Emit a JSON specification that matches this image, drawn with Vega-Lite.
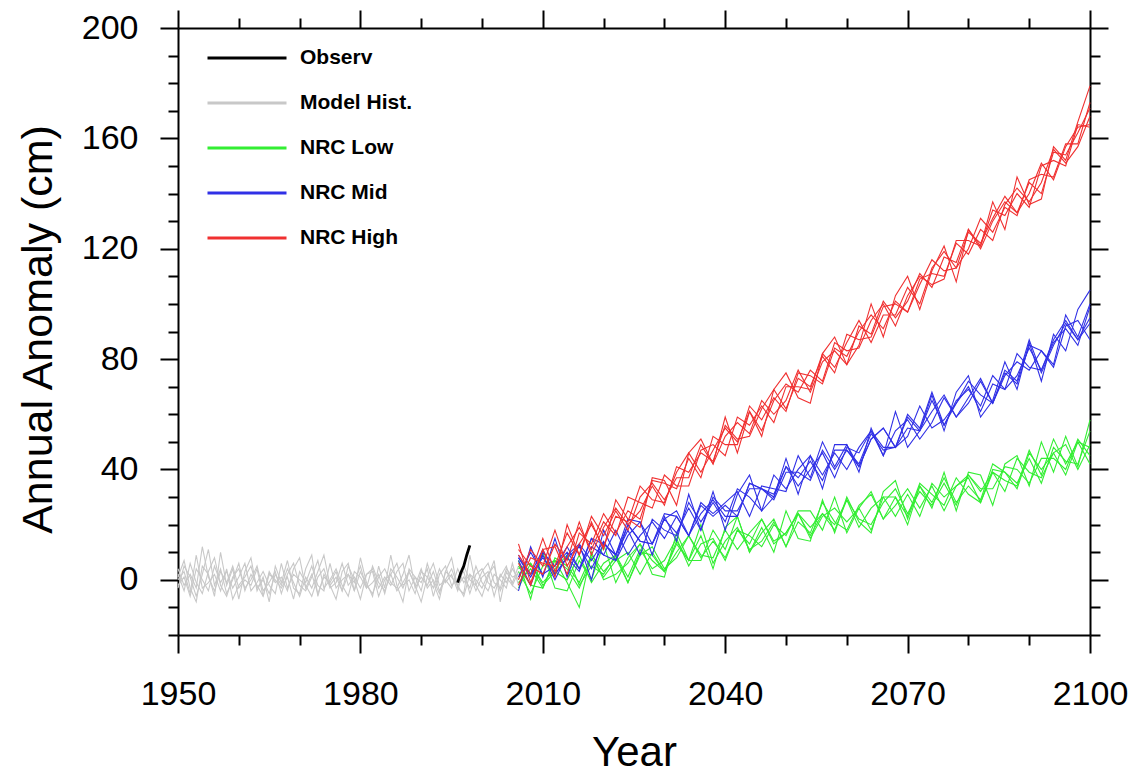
{
"$schema": "https://vega.github.io/schema/vega-lite/v6.json",
"width": 912, "height": 607,
"autosize": {"type": "none"},
"padding": {"left": 178, "top": 28, "right": 44, "bottom": 140},
"background": "white",
"config": {"font": "Liberation Sans", "view": {"stroke": null}},
"datasets": {
"obs": [
{"s":"Observ","t":1996,"v":-1},{"s":"Observ","t":1996.5,"v":2.5},{"s":"Observ","t":1997,"v":5},{"s":"Observ","t":1997.5,"v":9},{"s":"Observ","t":1998,"v":12.5}
],
"runs": [
{"s":"Model Hist.","t":1950,"a":2,"b":-3,"c":0,"d":4,"e":-2,"f":1},
{"s":"Model Hist.","t":1951,"a":-4,"b":5,"c":3,"d":-2,"e":1,"f":7},
{"s":"Model Hist.","t":1952,"a":6,"b":1,"c":-5,"d":2,"e":-6,"f":-3},
{"s":"Model Hist.","t":1953,"a":-1,"b":-6,"c":9,"d":-3,"e":4,"f":-8},
{"s":"Model Hist.","t":1954,"a":-5,"b":2,"c":-3,"d":12,"e":0,"f":5},
{"s":"Model Hist.","t":1955,"a":3,"b":11,"c":-1,"d":1,"e":-4,"f":2},
{"s":"Model Hist.","t":1956,"a":8,"b":-2,"c":2,"d":-4,"e":5,"f":-6},
{"s":"Model Hist.","t":1957,"a":-2,"b":4,"c":-4,"d":3,"e":-1,"f":10},
{"s":"Model Hist.","t":1958,"a":-6,"b":-5,"c":4,"d":-1,"e":3,"f":-2},
{"s":"Model Hist.","t":1959,"a":1,"b":0,"c":-7,"d":5,"e":-3,"f":4},
{"s":"Model Hist.","t":1960,"a":4,"b":6,"c":-2,"d":-3,"e":1,"f":-7},
{"s":"Model Hist.","t":1961,"a":-3,"b":-4,"c":1,"d":0,"e":6,"f":3},
{"s":"Model Hist.","t":1962,"a":0,"b":2,"c":5,"d":-2,"e":-4,"f":8},
{"s":"Model Hist.","t":1963,"a":5,"b":-2,"c":-3,"d":4,"e":-1,"f":-4},
{"s":"Model Hist.","t":1964,"a":-4,"b":-6,"c":0,"d":-6,"e":3,"f":1},
{"s":"Model Hist.","t":1965,"a":-1,"b":3,"c":-5,"d":2,"e":-2,"f":-8},
{"s":"Model Hist.","t":1966,"a":3,"b":-1,"c":2,"d":0,"e":-5,"f":5},
{"s":"Model Hist.","t":1967,"a":-5,"b":1,"c":-2,"d":-3,"e":6,"f":-1},
{"s":"Model Hist.","t":1968,"a":2,"b":-4,"c":4,"d":1,"e":-3,"f":7},
{"s":"Model Hist.","t":1969,"a":6,"b":4,"c":-1,"d":-7,"e":2,"f":-3},
{"s":"Model Hist.","t":1970,"a":-2,"b":8,"c":-6,"d":3,"e":0,"f":-5},
{"s":"Model Hist.","t":1971,"a":-4,"b":-3,"c":1,"d":-1,"e":-2,"f":4},
{"s":"Model Hist.","t":1972,"a":1,"b":2,"c":-3,"d":5,"e":-6,"f":9},
{"s":"Model Hist.","t":1973,"a":7,"b":-5,"c":3,"d":-2,"e":1,"f":-6},
{"s":"Model Hist.","t":1974,"a":-3,"b":1,"c":9,"d":-4,"e":4,"f":2},
{"s":"Model Hist.","t":1975,"a":0,"b":-1,"c":-2,"d":6,"e":-3,"f":-2},
{"s":"Model Hist.","t":1976,"a":4,"b":3,"c":1,"d":-3,"e":-1,"f":-7},
{"s":"Model Hist.","t":1977,"a":-2,"b":-4,"c":-4,"d":0,"e":6,"f":3},
{"s":"Model Hist.","t":1978,"a":-6,"b":5,"c":2,"d":2,"e":-2,"f":6},
{"s":"Model Hist.","t":1979,"a":3,"b":0,"c":-1,"d":-4,"e":1,"f":-4},
{"s":"Model Hist.","t":1980,"a":1,"b":-7,"c":5,"d":3,"e":-3,"f":8},
{"s":"Model Hist.","t":1981,"a":-3,"b":2,"c":-3,"d":-2,"e":2,"f":-1},
{"s":"Model Hist.","t":1982,"a":5,"b":4,"c":-1,"d":-5,"e":3,"f":-6},
{"s":"Model Hist.","t":1983,"a":-1,"b":-3,"c":2,"d":1,"e":-6,"f":5},
{"s":"Model Hist.","t":1984,"a":-4,"b":1,"c":-5,"d":4,"e":0,"f":-3},
{"s":"Model Hist.","t":1985,"a":2,"b":-2,"c":4,"d":-1,"e":2,"f":9},
{"s":"Model Hist.","t":1986,"a":6,"b":3,"c":1,"d":-3,"e":-4,"f":-2},
{"s":"Model Hist.","t":1987,"a":-2,"b":6,"c":-3,"d":2,"e":-1,"f":-8},
{"s":"Model Hist.","t":1988,"a":0,"b":-4,"c":3,"d":9,"e":3,"f":4},
{"s":"Model Hist.","t":1989,"a":-5,"b":1,"c":-2,"d":-3,"e":-2,"f":1},
{"s":"Model Hist.","t":1990,"a":3,"b":-1,"c":-8,"d":1,"e":4,"f":-4},
{"s":"Model Hist.","t":1991,"a":1,"b":4,"c":1,"d":-2,"e":-3,"f":6},
{"s":"Model Hist.","t":1992,"a":-3,"b":-6,"c":6,"d":3,"e":0,"f":-1},
{"s":"Model Hist.","t":1993,"a":4,"b":2,"c":-2,"d":-4,"e":-5,"f":-7},
{"s":"Model Hist.","t":1994,"a":-1,"b":5,"c":0,"d":0,"e":3,"f":3},
{"s":"Model Hist.","t":1995,"a":2,"b":-2,"c":-3,"d":4,"e":1,"f":8},
{"s":"Model Hist.","t":1996,"a":-4,"b":0,"c":4,"d":-2,"e":-2,"f":-3},
{"s":"Model Hist.","t":1997,"a":5,"b":3,"c":-1,"d":1,"e":-6,"f":-5},
{"s":"Model Hist.","t":1998,"a":0,"b":-5,"c":2,"d":-3,"e":2,"f":9},
{"s":"Model Hist.","t":1999,"a":-2,"b":2,"c":-4,"d":5,"e":0,"f":-2},
{"s":"Model Hist.","t":2000,"a":3,"b":4,"c":1,"d":-1,"e":-3,"f":-6},
{"s":"Model Hist.","t":2001,"a":6,"b":-1,"c":3,"d":-4,"e":2,"f":1},
{"s":"Model Hist.","t":2002,"a":-1,"b":-3,"c":-6,"d":2,"e":5,"f":7},
{"s":"Model Hist.","t":2003,"a":-3,"b":1,"c":2,"d":0,"e":-4,"f":-8},
{"s":"Model Hist.","t":2004,"a":4,"b":5,"c":-1,"d":-3,"e":1,"f":3},
{"s":"Model Hist.","t":2005,"a":1,"b":-2,"c":4,"d":6,"e":-2,"f":-1},
{"s":"Model Hist.","t":2006,"a":2,"b":3,"c":0,"d":-2,"e":-4,"f":5},
{"s":"NRC Low","t":2006,"a":-3,"b":4,"c":5,"d":-1,"e":3,"f":7},
{"s":"NRC Low","t":2008,"a":6,"b":6,"c":-2,"d":4,"e":-5,"f":-7},
{"s":"NRC Low","t":2010,"a":-1,"b":-2,"c":-3,"d":-3,"e":5,"f":10},
{"s":"NRC Low","t":2012,"a":4,"b":3,"c":8,"d":7,"e":7,"f":-3},
{"s":"NRC Low","t":2014,"a":9,"b":0,"c":5,"d":4,"e":-1,"f":-4},
{"s":"NRC Low","t":2016,"a":-2,"b":9,"c":-1,"d":-3,"e":-10,"f":7},
{"s":"NRC Low","t":2018,"a":5,"b":-1,"c":9,"d":8,"e":10,"f":0},
{"s":"NRC Low","t":2020,"a":2,"b":6,"c":3,"d":1,"e":0,"f":13},
{"s":"NRC Low","t":2022,"a":9,"b":9,"c":8,"d":7,"e":2,"f":-1},
{"s":"NRC Low","t":2024,"a":-1,"b":1,"c":-1,"d":10,"e":6,"f":8},
{"s":"NRC Low","t":2026,"a":9,"b":11,"c":10,"d":2,"e":13,"f":13},
{"s":"NRC Low","t":2028,"a":12,"b":4,"c":9,"d":10,"e":7,"f":2},
{"s":"NRC Low","t":2030,"a":4,"b":7,"c":3,"d":3,"e":3,"f":1},
{"s":"NRC Low","t":2032,"a":8,"b":15,"c":14,"d":10,"e":13,"f":17},
{"s":"NRC Low","t":2034,"a":16,"b":5,"c":7,"d":16,"e":7,"f":7},
{"s":"NRC Low","t":2036,"a":8,"b":13,"c":7,"d":9,"e":20,"f":16},
{"s":"NRC Low","t":2038,"a":14,"b":15,"c":18,"d":8,"e":6,"f":4},
{"s":"NRC Low","t":2040,"a":8,"b":7,"c":11,"d":18,"e":14,"f":19},
{"s":"NRC Low","t":2042,"a":18,"b":18,"c":23,"d":11,"e":19,"f":23},
{"s":"NRC Low","t":2044,"a":16,"b":13,"c":10,"d":17,"e":11,"f":10},
{"s":"NRC Low","t":2046,"a":12,"b":22,"c":17,"d":22,"e":14,"f":19},
{"s":"NRC Low","t":2048,"a":20,"b":14,"c":22,"d":13,"e":21,"f":10},
{"s":"NRC Low","t":2050,"a":16,"b":17,"c":12,"d":17,"e":12,"f":25},
{"s":"NRC Low","t":2052,"a":25,"b":24,"c":21,"d":24,"e":24,"f":15},
{"s":"NRC Low","t":2054,"a":25,"b":16,"c":17,"d":15,"e":19,"f":14},
{"s":"NRC Low","t":2056,"a":18,"b":24,"c":28,"d":23,"e":24,"f":29},
{"s":"NRC Low","t":2058,"a":30,"b":20,"c":21,"d":26,"e":18,"f":17},
{"s":"NRC Low","t":2060,"a":17,"b":29,"c":18,"d":21,"e":29,"f":30},
{"s":"NRC Low","t":2062,"a":26,"b":19,"c":27,"d":26,"e":22,"f":21},
{"s":"NRC Low","t":2064,"a":32,"b":26,"c":31,"d":18,"e":20,"f":17},
{"s":"NRC Low","t":2066,"a":22,"b":30,"c":22,"d":30,"e":28,"f":32},
{"s":"NRC Low","t":2068,"a":30,"b":23,"c":27,"d":30,"e":33,"f":36},
{"s":"NRC Low","t":2070,"a":23,"b":31,"c":33,"d":20,"e":24,"f":22},
{"s":"NRC Low","t":2072,"a":35,"b":23,"c":26,"d":34,"e":32,"f":34},
{"s":"NRC Low","t":2074,"a":31,"b":35,"c":34,"d":28,"e":27,"f":26},
{"s":"NRC Low","t":2076,"a":27,"b":30,"c":25,"d":37,"e":35,"f":39},
{"s":"NRC Low","t":2078,"a":37,"b":34,"c":34,"d":28,"e":27,"f":25},
{"s":"NRC Low","t":2080,"a":31,"b":37,"c":38,"d":34,"e":38,"f":39},
{"s":"NRC Low","t":2082,"a":28,"b":28,"c":32,"d":29,"e":33,"f":38},
{"s":"NRC Low","t":2084,"a":40,"b":39,"c":39,"d":42,"e":33,"f":27},
{"s":"NRC Low","t":2086,"a":39,"b":36,"c":32,"d":39,"e":41,"f":42},
{"s":"NRC Low","t":2088,"a":33,"b":34,"c":44,"d":35,"e":40,"f":45},
{"s":"NRC Low","t":2090,"a":46,"b":47,"c":39,"d":44,"e":35,"f":34},
{"s":"NRC Low","t":2092,"a":40,"b":38,"c":37,"d":35,"e":44,"f":50},
{"s":"NRC Low","t":2094,"a":46,"b":51,"c":46,"d":48,"e":44,"f":39},
{"s":"NRC Low","t":2096,"a":38,"b":42,"c":49,"d":43,"e":40,"f":52},
{"s":"NRC Low","t":2098,"a":50,"b":50,"c":40,"d":42,"e":51,"f":41},
{"s":"NRC Low","t":2100,"a":48,"b":42,"c":49,"d":54,"e":45,"f":58},
{"s":"NRC Mid","t":2006,"a":9,"b":8,"c":7,"d":8,"e":1,"f":-4},
{"s":"NRC Mid","t":2008,"a":2,"b":2,"c":-2,"d":1,"e":10,"f":12},
{"s":"NRC Mid","t":2010,"a":8,"b":11,"c":10,"d":9,"e":2,"f":1},
{"s":"NRC Mid","t":2012,"a":2,"b":2,"c":5,"d":0,"e":5,"f":15},
{"s":"NRC Mid","t":2014,"a":8,"b":8,"c":10,"d":9,"e":12,"f":1},
{"s":"NRC Mid","t":2016,"a":12,"b":3,"c":4,"d":13,"e":4,"f":13},
{"s":"NRC Mid","t":2018,"a":4,"b":15,"c":15,"d":7,"e":12,"f":0},
{"s":"NRC Mid","t":2020,"a":13,"b":13,"c":9,"d":14,"e":9,"f":18},
{"s":"NRC Mid","t":2022,"a":9,"b":9,"c":7,"d":7,"e":18,"f":9},
{"s":"NRC Mid","t":2024,"a":20,"b":18,"c":16,"d":20,"e":9,"f":22},
{"s":"NRC Mid","t":2026,"a":14,"b":9,"c":21,"d":14,"e":16,"f":21},
{"s":"NRC Mid","t":2028,"a":13,"b":22,"c":13,"d":13,"e":21,"f":9},
{"s":"NRC Mid","t":2030,"a":24,"b":18,"c":22,"d":22,"e":15,"f":23},
{"s":"NRC Mid","t":2032,"a":23,"b":16,"c":17,"d":25,"e":23,"f":14},
{"s":"NRC Mid","t":2034,"a":16,"b":28,"c":26,"d":16,"e":16,"f":31},
{"s":"NRC Mid","t":2036,"a":27,"b":21,"c":18,"d":24,"e":28,"f":18},
{"s":"NRC Mid","t":2038,"a":23,"b":28,"c":30,"d":29,"e":24,"f":32},
{"s":"NRC Mid","t":2040,"a":27,"b":21,"c":25,"d":23,"e":28,"f":18},
{"s":"NRC Mid","t":2042,"a":23,"b":33,"c":25,"d":23,"e":32,"f":31},
{"s":"NRC Mid","t":2044,"a":35,"b":30,"c":33,"d":35,"e":23,"f":38},
{"s":"NRC Mid","t":2046,"a":33,"b":25,"c":33,"d":33,"e":34,"f":25},
{"s":"NRC Mid","t":2048,"a":31,"b":38,"c":29,"d":30,"e":33,"f":30},
{"s":"NRC Mid","t":2050,"a":41,"b":33,"c":39,"d":41,"e":32,"f":44},
{"s":"NRC Mid","t":2052,"a":34,"b":40,"c":39,"d":37,"e":45,"f":31},
{"s":"NRC Mid","t":2054,"a":40,"b":45,"c":36,"d":43,"e":37,"f":45},
{"s":"NRC Mid","t":2056,"a":46,"b":38,"c":47,"d":36,"e":50,"f":33},
{"s":"NRC Mid","t":2058,"a":37,"b":46,"c":40,"d":47,"e":41,"f":49},
{"s":"NRC Mid","t":2060,"a":48,"b":40,"c":47,"d":47,"e":49,"f":49},
{"s":"NRC Mid","t":2062,"a":46,"b":48,"c":41,"d":42,"e":41,"f":39},
{"s":"NRC Mid","t":2064,"a":54,"b":54,"c":51,"d":53,"e":51,"f":55},
{"s":"NRC Mid","t":2066,"a":45,"b":48,"c":55,"d":47,"e":55,"f":45},
{"s":"NRC Mid","t":2068,"a":54,"b":48,"c":48,"d":48,"e":48,"f":61},
{"s":"NRC Mid","t":2070,"a":58,"b":59,"c":52,"d":60,"e":55,"f":48},
{"s":"NRC Mid","t":2072,"a":51,"b":54,"c":63,"d":55,"e":54,"f":54},
{"s":"NRC Mid","t":2074,"a":57,"b":61,"c":55,"d":68,"e":65,"f":67},
{"s":"NRC Mid","t":2076,"a":66,"b":67,"c":58,"d":56,"e":56,"f":54},
{"s":"NRC Mid","t":2078,"a":59,"b":59,"c":64,"d":64,"e":65,"f":68},
{"s":"NRC Mid","t":2080,"a":66,"b":64,"c":72,"d":70,"e":69,"f":74},
{"s":"NRC Mid","t":2082,"a":73,"b":72,"c":67,"d":61,"e":63,"f":59},
{"s":"NRC Mid","t":2084,"a":64,"b":64,"c":64,"d":71,"e":74,"f":65},
{"s":"NRC Mid","t":2086,"a":75,"b":74,"c":76,"d":69,"e":69,"f":79},
{"s":"NRC Mid","t":2088,"a":71,"b":79,"c":72,"d":82,"e":74,"f":69},
{"s":"NRC Mid","t":2090,"a":85,"b":76,"c":87,"d":77,"e":84,"f":86},
{"s":"NRC Mid","t":2092,"a":83,"b":83,"c":75,"d":76,"e":76,"f":72},
{"s":"NRC Mid","t":2094,"a":78,"b":77,"c":85,"d":87,"e":86,"f":89},
{"s":"NRC Mid","t":2096,"a":96,"b":92,"c":93,"d":94,"e":91,"f":83},
{"s":"NRC Mid","t":2098,"a":88,"b":94,"c":87,"d":87,"e":85,"f":98},
{"s":"NRC Mid","t":2100,"a":100,"b":87,"c":93,"d":95,"e":99,"f":105},
{"s":"NRC High","t":2006,"a":9,"b":0,"c":6,"d":-2,"e":11,"f":13},
{"s":"NRC High","t":2008,"a":2,"b":11,"c":-2,"d":8,"e":5,"f":-1},
{"s":"NRC High","t":2010,"a":15,"b":5,"c":11,"d":6,"e":2,"f":11},
{"s":"NRC High","t":2012,"a":3,"b":18,"c":12,"d":5,"e":13,"f":1},
{"s":"NRC High","t":2014,"a":12,"b":5,"c":2,"d":17,"e":7,"f":20},
{"s":"NRC High","t":2016,"a":19,"b":13,"c":17,"d":9,"e":21,"f":9},
{"s":"NRC High","t":2018,"a":11,"b":20,"c":13,"d":23,"e":9,"f":21},
{"s":"NRC High","t":2020,"a":21,"b":12,"c":24,"d":16,"e":19,"f":11},
{"s":"NRC High","t":2022,"a":16,"b":23,"c":17,"d":25,"e":26,"f":29},
{"s":"NRC High","t":2024,"a":30,"b":21,"c":25,"d":18,"e":20,"f":22},
{"s":"NRC High","t":2026,"a":28,"b":34,"c":22,"d":30,"e":25,"f":19},
{"s":"NRC High","t":2028,"a":26,"b":29,"c":36,"d":35,"e":34,"f":37},
{"s":"NRC High","t":2030,"a":38,"b":28,"c":35,"d":29,"e":27,"f":36},
{"s":"NRC High","t":2032,"a":34,"b":39,"c":33,"d":37,"e":41,"f":27},
{"s":"NRC High","t":2034,"a":34,"b":46,"c":44,"d":37,"e":39,"f":46},
{"s":"NRC High","t":2036,"a":47,"b":39,"c":37,"d":49,"e":46,"f":51},
{"s":"NRC High","t":2038,"a":49,"b":47,"c":52,"d":42,"e":43,"f":42},
{"s":"NRC High","t":2040,"a":45,"b":55,"c":49,"d":52,"e":56,"f":59},
{"s":"NRC High","t":2042,"a":59,"b":50,"c":49,"d":57,"e":51,"f":46},
{"s":"NRC High","t":2044,"a":56,"b":61,"c":63,"d":53,"e":52,"f":61},
{"s":"NRC High","t":2046,"a":63,"b":54,"c":58,"d":65,"e":62,"f":52},
{"s":"NRC High","t":2048,"a":57,"b":65,"c":66,"d":60,"e":69,"f":69},
{"s":"NRC High","t":2050,"a":70,"b":71,"c":61,"d":65,"e":62,"f":75},
{"s":"NRC High","t":2052,"a":70,"b":68,"c":75,"d":76,"e":73,"f":66},
{"s":"NRC High","t":2054,"a":69,"b":76,"c":74,"d":68,"e":70,"f":64},
{"s":"NRC High","t":2056,"a":82,"b":72,"c":71,"d":79,"e":81,"f":82},
{"s":"NRC High","t":2058,"a":77,"b":86,"c":84,"d":83,"e":75,"f":88},
{"s":"NRC High","t":2060,"a":86,"b":83,"c":81,"d":78,"e":89,"f":78},
{"s":"NRC High","t":2062,"a":94,"b":84,"c":90,"d":92,"e":87,"f":85},
{"s":"NRC High","t":2064,"a":86,"b":94,"c":96,"d":89,"e":88,"f":100},
{"s":"NRC High","t":2066,"a":96,"b":100,"c":91,"d":101,"e":99,"f":88},
{"s":"NRC High","t":2068,"a":96,"b":92,"c":101,"d":95,"e":100,"f":103},
{"s":"NRC High","t":2070,"a":106,"b":103,"c":97,"d":101,"e":97,"f":110},
{"s":"NRC High","t":2072,"a":100,"b":110,"c":107,"d":111,"e":109,"f":98},
{"s":"NRC High","t":2074,"a":113,"b":107,"c":116,"d":106,"e":111,"f":112},
{"s":"NRC High","t":2076,"a":119,"b":109,"c":112,"d":117,"e":110,"f":121},
{"s":"NRC High","t":2078,"a":113,"b":123,"c":113,"d":115,"e":122,"f":108},
{"s":"NRC High","t":2080,"a":120,"b":123,"c":126,"d":127,"e":118,"f":127},
{"s":"NRC High","t":2082,"a":131,"b":121,"c":122,"d":120,"e":127,"f":121},
{"s":"NRC High","t":2084,"a":126,"b":134,"c":131,"d":130,"e":123,"f":137},
{"s":"NRC High","t":2086,"a":135,"b":132,"c":139,"d":137,"e":136,"f":127},
{"s":"NRC High","t":2088,"a":132,"b":140,"c":133,"d":133,"e":142,"f":146},
{"s":"NRC High","t":2090,"a":145,"b":135,"c":140,"d":144,"e":137,"f":136},
{"s":"NRC High","t":2092,"a":147,"b":150,"c":151,"d":140,"e":144,"f":138},
{"s":"NRC High","t":2094,"a":146,"b":152,"c":145,"d":155,"e":156,"f":157},
{"s":"NRC High","t":2096,"a":158,"b":150,"c":157,"d":154,"e":151,"f":152},
{"s":"NRC High","t":2098,"a":158,"b":165,"c":164,"d":162,"e":157,"f":166},
{"s":"NRC High","t":2100,"a":173,"b":164,"c":165,"d":171,"e":168,"f":179}
]
},
"layer": [
{
"data": {"name": "runs"},
"transform": [{"fold": ["a","b","c","d","e","f"], "as": ["m","v"]}],
"mark": {"type": "line", "strokeWidth": 1.1},
"encoding": {
"x": {"field": "t", "type": "quantitative",
 "scale": {"domain": [1950, 2100], "nice": false, "zero": false},
 "axis": {"orient": "bottom", "values": [1950,1960,1970,1980,1990,2000,2010,2020,2030,2040,2050,2060,2070,2080,2090,2100],
  "format": "d", "labelExpr": "datum.value % 30 === 0 ? datum.label : ''",
  "tickSize": {"condition": {"test": "datum.value % 30 === 0", "value": 18}, "value": 10},
  "tickWidth": 2, "tickColor": "black", "domainColor": "black", "domainWidth": 2,
  "labelFontSize": 34, "labelColor": "black", "labelPadding": 24, "labelOverlap": false, "labelFlush": false, "labelBound": false,
  "grid": false, "title": "Year", "titleFontSize": 42, "titleFontWeight": "normal", "titleColor": "black",
  "titleX": 456, "titleY": 130, "titleBaseline": "alphabetic", "titleAlign": "center"}},
"y": {"field": "v", "type": "quantitative",
 "scale": {"domain": [-20, 200], "nice": false, "zero": false},
 "axis": {"orient": "left", "values": [-20,-10,0,10,20,30,40,50,60,70,80,90,100,110,120,130,140,150,160,170,180,190,200],
  "format": "d", "labelExpr": "datum.value % 40 === 0 ? datum.label : ''",
  "tickSize": {"condition": {"test": "datum.value % 40 === 0", "value": 18}, "value": 10},
  "tickWidth": 2, "tickColor": "black", "domainColor": "black", "domainWidth": 2,
  "labelFontSize": 34, "labelColor": "black", "labelPadding": 22, "labelOverlap": false, "labelFlush": false, "labelBound": false,
  "grid": false, "title": "Annual Anomaly (cm)", "titleFontSize": 43, "titleFontWeight": "normal", "titleColor": "black",
  "titleAngle": 270, "titleX": -127, "titleY": 301, "titleBaseline": "alphabetic", "titleAlign": "center"}},
"color": {"field": "s", "type": "nominal",
 "scale": {"domain": ["Observ","Model Hist.","NRC Low","NRC Mid","NRC High"], "range": ["#000000","#c8c8c8","#33ee33","#3030e6","#f03030"]},
 "legend": {"title": null, "orient": "none", "legendX": 28, "legendY": 17, "symbolType": "stroke", "symbolSize": 6241, "symbolStrokeWidth": 3,
  "clipHeight": 26,
  "labelFontSize": 21, "labelFontWeight": "bold", "labelColor": "black", "labelOffset": 12, "rowPadding": 19, "padding": 0}},
"detail": {"field": "m"}
}
},
{
"data": {"name": "obs"},
"mark": {"type": "line", "strokeWidth": 2.8},
"encoding": {
"x": {"field": "t", "type": "quantitative",
 "axis": {"orient": "top", "values": [1950,1960,1970,1980,1990,2000,2010,2020,2030,2040,2050,2060,2070,2080,2090,2100],
  "labels": false, "title": null, "grid": false,
  "tickSize": {"condition": {"test": "datum.value % 30 === 0", "value": 18}, "value": 10},
  "tickWidth": 2, "tickColor": "black", "domainColor": "black", "domainWidth": 2}},
"y": {"field": "v", "type": "quantitative",
 "axis": {"orient": "right", "values": [-20,-10,0,10,20,30,40,50,60,70,80,90,100,110,120,130,140,150,160,170,180,190,200],
  "labels": false, "title": null, "grid": false,
  "tickSize": {"condition": {"test": "datum.value % 40 === 0", "value": 18}, "value": 10},
  "tickWidth": 2, "tickColor": "black", "domainColor": "black", "domainWidth": 2}},
"color": {"field": "s", "type": "nominal"}
}
}
],
"resolve": {"axis": {"x": "independent", "y": "independent"}}
}
